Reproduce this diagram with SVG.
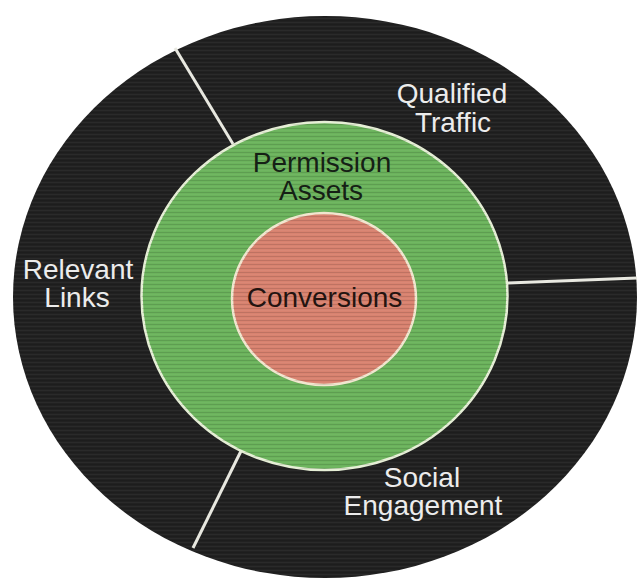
<svg xmlns="http://www.w3.org/2000/svg" width="644" height="580" viewBox="0 0 644 580">
<defs>
<pattern id="tex" width="8" height="4" patternUnits="userSpaceOnUse">
<rect x="0" y="0" width="8" height="1" fill="#000" fill-opacity="0.12"/>
<rect x="0" y="2" width="8" height="1" fill="#fff" fill-opacity="0.04"/>
</pattern>
<style>
.lw{font-family:"Liberation Sans",Arial,sans-serif;font-size:28px;fill:#ececec;text-anchor:middle}
.ld{font-family:"Liberation Sans",Arial,sans-serif;font-size:28px;fill:#152015;text-anchor:middle}
.lr{font-family:"Liberation Sans",Arial,sans-serif;font-size:28px;fill:#231410;text-anchor:middle}
.div{stroke:#e8e8e0;stroke-width:3;fill:none}
</style>
</defs>
<rect width="644" height="580" fill="#ffffff"/>
<g id="outer-ring">
<ellipse cx="325" cy="297" rx="312" ry="281" fill="#212121"/>
<ellipse cx="325" cy="297" rx="312" ry="281" fill="url(#tex)"/>
</g>
<g id="connectors">
<line class="div" x1="175" y1="48" x2="233" y2="144"/>
<line class="div" x1="507" y1="283" x2="637" y2="278"/>
<line class="div" x1="241" y1="451" x2="193" y2="548"/>
</g>
<g id="permission-assets">
<ellipse cx="324.5" cy="296" rx="183" ry="174" fill="#6bb35c" stroke="#e6efd6" stroke-width="2.5"/>
<ellipse cx="324.5" cy="296" rx="183" ry="174" fill="url(#tex)"/>
<text class="ld" x="322" y="172">Permission</text>
<text class="ld" x="321" y="200">Assets</text>
</g>
<g id="conversions">
<ellipse cx="324" cy="299" rx="92" ry="86" fill="#d8826f" stroke="#f1e6cf" stroke-width="2.5"/>
<ellipse cx="324" cy="299" rx="92" ry="86" fill="url(#tex)"/>
<text class="lr" x="324.5" y="307">Conversions</text>
</g>
<g id="qualified-traffic">
<text class="lw" x="452" y="103">Qualified</text>
<text class="lw" x="453" y="132">Traffic</text>
</g>
<g id="relevant-links">
<text class="lw" x="78" y="279">Relevant</text>
<text class="lw" x="77" y="307">Links</text>
</g>
<g id="social-engagement">
<text class="lw" x="422" y="487">Social</text>
<text class="lw" x="423" y="515">Engagement</text>
</g>
</svg>
